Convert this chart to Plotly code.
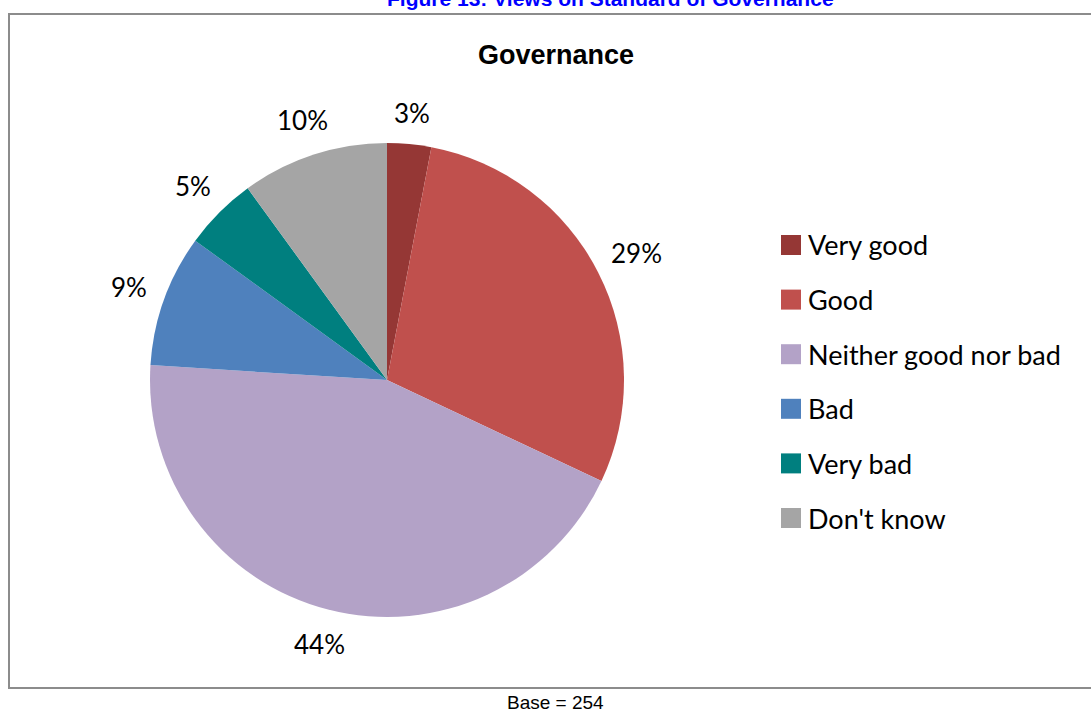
import math
import plotly.graph_objects as go

W, H = 1091, 711

categories = ["Very good", "Good", "Neither good nor bad", "Bad", "Very bad", "Don't know"]
percentages = [3, 29, 44, 9, 5, 10]
colors = ["#953735", "#C0504D", "#B3A2C7", "#4F81BD", "#007F7F", "#A5A5A5"]

fig_title = "Figure 13: Views on Standard of Governance"
chart_title = "Governance"
base_note = "Base = 254"

label_font = "Lato, 'Noto Sans', sans-serif"
arial = "Arial, 'Liberation Sans', sans-serif"
label_size = 26

# pie geometry in pixels
cx, cy, R = 387, 380, 237
label_gap = 17


def px(x):
    return x / W


def py(y):
    return 1 - y / H


fig = go.Figure()
fig.add_trace(go.Pie(
    labels=categories,
    values=percentages,
    marker=dict(colors=colors, line=dict(width=0)),
    sort=False,
    direction="clockwise",
    rotation=0,
    textinfo="none",
    hoverinfo="label+percent",
    showlegend=False,
    domain=dict(x=[px(cx - R), px(cx + R)], y=[py(cy + R), py(cy - R)]),
))

annotations = []
shapes = []

# percentage labels: text box sits a fixed gap outside the rim at each mid-angle
total = sum(percentages)
cum = 0
for v in percentages:
    mid = (cum + v / 2) / total * 2 * math.pi
    cum += v
    txt = f"{v}%"
    half_w = (0.5 * (len(txt) - 1) + 0.75) * label_size / 2
    half_h = label_size / 2
    ux, uy = math.sin(mid), -math.cos(mid)
    ext = abs(ux) * half_w + abs(uy) * half_h
    r = R + label_gap + ext
    lx = cx + r * ux
    ly = cy + r * uy
    annotations.append(dict(
        x=px(lx), y=py(ly), xref="paper", yref="paper",
        text=txt, showarrow=False,
        xanchor="center", yanchor="middle",
        font=dict(family=label_font, size=label_size, color="#000000"),
    ))

# legend: colour squares with category names
leg_x, leg_y0, leg_dy, sq = 781, 245, 54.6, 20
for i, (name, c) in enumerate(zip(categories, colors)):
    yc = leg_y0 + i * leg_dy
    shapes.append(dict(
        type="rect", xref="paper", yref="paper",
        x0=px(leg_x), x1=px(leg_x + sq), y0=py(yc + sq / 2), y1=py(yc - sq / 2),
        fillcolor=c, line=dict(width=0),
    ))
    annotations.append(dict(
        x=px(leg_x + sq + 5), y=py(yc), xref="paper", yref="paper",
        text=name, showarrow=False, xanchor="left", yanchor="middle",
        font=dict(family=label_font, size=27, color="#000000"),
    ))

# chart frame
shapes.append(dict(
    type="rect", xref="paper", yref="paper",
    x0=px(9), x1=px(1103), y0=py(688), y1=py(14),
    line=dict(color="#8C8C8C", width=2), fillcolor="rgba(0,0,0,0)",
))

# titles and note
annotations.append(dict(
    x=px(610), y=py(12), xref="paper", yref="paper", text=f"<b>{fig_title}</b>",
    showarrow=False, xanchor="center", yanchor="bottom",
    font=dict(family=arial, size=21, color="#0000FF"),
))
annotations.append(dict(
    x=px(556), y=py(55), xref="paper", yref="paper", text=f"<b>{chart_title}</b>",
    showarrow=False, xanchor="center", yanchor="middle",
    font=dict(family=arial, size=27, color="#000000"),
))
annotations.append(dict(
    x=px(555), y=py(702), xref="paper", yref="paper", text=base_note,
    showarrow=False, xanchor="center", yanchor="middle",
    font=dict(family=arial, size=19, color="#000000"),
))

fig.update_layout(
    width=W, height=H,
    margin=dict(l=0, r=0, t=0, b=0),
    paper_bgcolor="#FFFFFF",
    plot_bgcolor="#FFFFFF",
    annotations=annotations,
    shapes=shapes,
)

fig.write_html("out.html")
